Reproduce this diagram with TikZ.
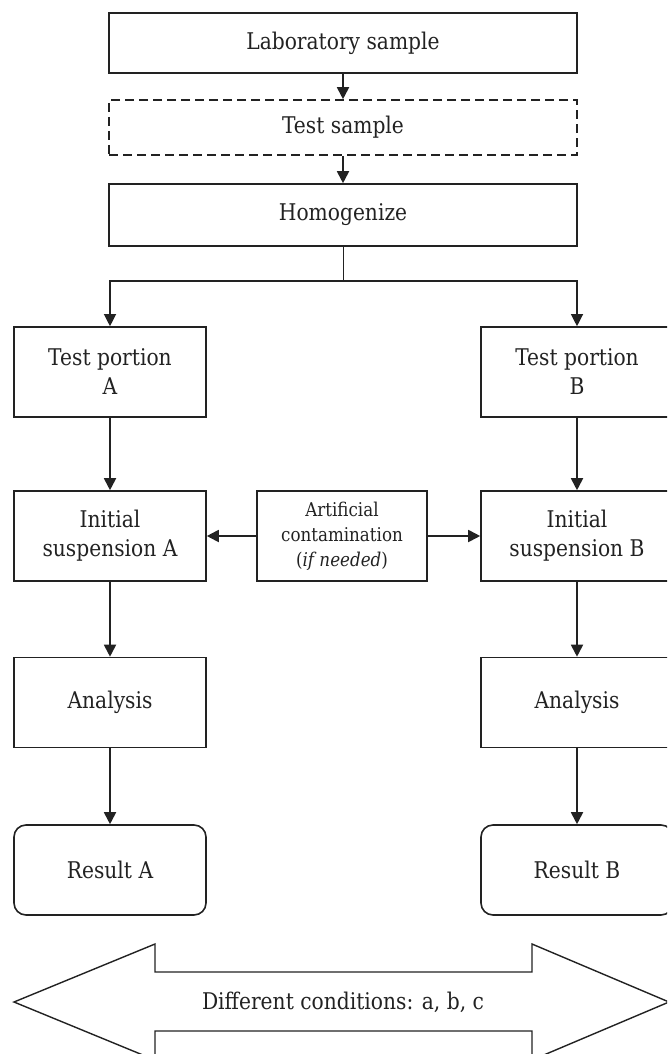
\documentclass[tikz,border=0pt]{standalone}
\usepackage{fontspec}
\setmainfont{DejaVu Serif}[FakeStretch=0.88]
\usetikzlibrary{arrows.meta}
\definecolor{ink}{HTML}{222222}
\begin{document}
\begin{tikzpicture}[x=1pt,y=-1pt,
  txt/.style={font=\fontsize{23}{29}\selectfont, text=ink},
  widebox/.style={draw=ink, line width=1.6pt, minimum width=468pt, inner sep=0pt, align=center, txt},
  colbox/.style={draw=ink, line width=1.6pt, minimum width=192pt, minimum height=90pt, inner sep=0pt, align=center, txt},
  resbox/.style={colbox, rounded corners=12pt},
  smallbox/.style={draw=ink, line width=1.6pt, minimum width=170pt, minimum height=90pt, inner sep=0pt, align=center,
    font=\fontsize{19}{25}\selectfont, text=ink},
  arr/.style={draw=ink, line width=1.8pt, -{Triangle[length=12pt,width=12pt]}},
  splitline/.style={draw=ink, line width=0.9pt},
  bigarrow/.style={draw=ink, line width=1.4pt, fill=white}
]
\useasboundingbox (0,0) rectangle (667,1054);
\clip (0,0) rectangle (667,1054);

% top column of wide boxes
\node[widebox, minimum height=60pt] (lab) at (343,43) {Laboratory sample};
\node[widebox, minimum height=55pt, dash pattern=on 9pt off 5pt] (test) at (343,127.5) {Test sample};
\node[widebox, minimum height=62pt] (hom) at (343,215) {Homogenize};

% left branch
\node[colbox] (tpA) at (110,372) {Test portion\\A};
\node[colbox] (isA) at (110,536) {Initial\\suspension A};
\node[colbox] (anA) at (110,702.5) {Analysis};
\node[resbox] (reA) at (110,870) {Result A};

% right branch
\node[colbox] (tpB) at (577,372) {Test portion\\B};
\node[colbox] (isB) at (577,536) {Initial\\suspension B};
\node[colbox] (anB) at (577,702.5) {Analysis};
\node[resbox] (reB) at (577,870) {Result B};

% contamination step between the branches
\node[smallbox] (art) at (342,536) {Artificial\\contamination\\(\textit{if needed})};

% connectors
\draw[arr] (lab) -- (test);
\draw[arr] (test) -- (hom);
\coordinate (split) at (343,281);
\draw[splitline] (hom.south) -- (split);
\draw[arr, line width=1.2pt] (split) -| (tpA.north);
\draw[arr, line width=1.2pt] (split) -| (tpB.north);
\draw[arr] (tpA) -- (isA);
\draw[arr] (isA) -- (anA);
\draw[arr] (anA) -- (reA);
\draw[arr] (tpB) -- (isB);
\draw[arr] (isB) -- (anB);
\draw[arr] (anB) -- (reB);
\draw[arr] (art) -- (isA);
\draw[arr] (art) -- (isB);

% double-headed block arrow
\draw[bigarrow] (14,1002) -- (155,944) -- (155,972) -- (532,972) -- (532,944) -- (669,1002)
  -- (532,1060) -- (532,1031) -- (155,1031) -- (155,1060) -- cycle;
\node[font=\fontsize{23}{27}\selectfont, text=ink] (cond) at (343,1002) {Different conditions: a, b, c};
\end{tikzpicture}
\end{document}
